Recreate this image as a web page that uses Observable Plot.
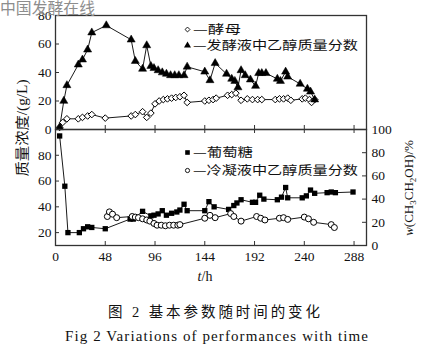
<!DOCTYPE html>
<html><head><meta charset="utf-8">
<script src="https://cdn.jsdelivr.net/npm/d3@7"></script>
<script src="https://cdn.jsdelivr.net/npm/@observablehq/plot@0.6"></script>
<style>
body{margin:0;background:#fff}
#root{position:relative;width:432px;height:358px;overflow:hidden;background:#fff}
#root svg{position:absolute;left:0}
</style></head><body><div id="root"></div>
<script>
// ---- tick values ----
const xTicks = [0, 48, 96, 144, 192, 240, 288];
const topTicks = [0, 20, 40, 60, 80];
const leftTicks = [20, 40, 60, 80];
const rightTicks = [0, 20, 40, 60, 80, 100];

// ---- top panel: yeast (g/L) ----
const yeastTime = [4,7,11,22,26,31,35,48,73,77,84,88,92,96,100,104,108,112,116,120,124,127,144,148,152,155,166,170,174,179,185,190,195,199,212,216,220,224,227,238,241,245,247,250];
const yeastConc = [1.5,5,7.5,7.5,8.5,9.5,10.5,8,9.5,10.5,12.5,8.5,11.5,18,20,21,21.5,22,22.5,23,24,19,20,20.5,21,22,24,24.5,25.5,20.5,21.5,21,21,21,21,21.5,21.5,22,20.5,21.5,22,21,19,21];

// ---- top panel: ethanol in broth ----
const brothTime = [4,8,11,22,26,31,35,49,73,77,84,88,92,95,99,103,107,111,115,119,124,127,144,149,154,165,170,173,176,179,183,188,193,196,199,203,214,217,222,224,236,243,246,250];
const brothEthanol = [1.5,20,31,45.5,49,56,68,73,63,48,42.5,59,44.5,43,41.5,40,39,38,38,38,38,44,40.5,34.5,46.5,39,35.5,34,29.5,41.5,38,35,30.5,39.5,39.5,39.5,35.5,34,40.5,37,32,28.5,26.5,21];

// ---- bottom panel: glucose (g/L, left axis) ----
const glucoseTime = [4,9,12,23,27,31,35,48,72,75,84,92,95,99,103,107,112,117,120,124,127,144,148,153,167,172,175,179,190,193,197,201,214,218,222,224,238,242,246,250,262,266,270,287];
const glucoseConc = [95,56,20,20,23,24.5,24,23,30.5,30.5,36.5,33,33.5,34.5,37,33.5,35,36,37.5,42,37,37,44,40,38,41,43,45.5,43.5,43.5,49,46,45.5,47.5,55,47,47,48.5,53,50.5,51,51.5,51,51.5];

// ---- bottom panel: ethanol in condensate (%, right axis) ----
const condTime = [50,52,55,59,74,77,80,84,88,91,95,98,102,106,110,114,118,120,144,149,154,169,172,179,194,198,202,216,220,224,240,244,249,266,269];
const condEthanol = [25,29,27,24,25,24.5,24,23,22,21,19,17.5,17.5,17,17.5,17.5,17.5,18,23.5,26,24,27.5,25,21,25,23.5,22,23.5,24,22.5,24.5,23,20,18,15.5];

// ---- tables ----
const zip = (ts, vs) => ts.map((t, i) => ({t, v: vs[i]}));
const yeast = zip(yeastTime, yeastConc);
const broth = zip(brothTime, brothEthanol);
const glucose = zip(glucoseTime, glucoseConc);
const leftDomain = [10, 100], rightDomain = [0, 100];
const r2l = v => leftDomain[0] + (v - rightDomain[0]) * (leftDomain[1] - leftDomain[0]) / (rightDomain[1] - rightDomain[0]);
const l2r = v => rightDomain[0] + (v - leftDomain[0]) * (rightDomain[1] - rightDomain[0]) / (leftDomain[1] - leftDomain[0]);
const cond = zip(condTime, condEthanol).map(d => ({t: d.t, v: r2l(d.v)}));

// ---- layout ----
const W = 432, ML = 55, MR = 66, FW = W - ML - MR;
const serif = "'Liberation Serif','Times New Roman',serif";
const frameColor = "#333";
const lineW = 0.9;

const topH = 130, topMT = 15, topMB = 1, topFH = topH - topMT - topMB;
const topPlot = Plot.plot({
  width: W, height: topH, marginLeft: ML, marginRight: MR, marginTop: topMT, marginBottom: topMB,
  x: {domain: [0, 300], axis: null},
  y: {domain: [0, 80]},
  style: {fontFamily: serif, fontSize: "13.5px", background: "transparent", color: "#111", overflow: "visible"},
  marks: [
    Plot.axisY(topTicks, {tickSize: 0, tickPadding: 4, label: null, fontSize: 13.5}),
    Plot.ruleY(topTicks, {insetRight: FW - 4, stroke: frameColor}),
    Plot.ruleX(xTicks, {insetTop: topFH - 4, stroke: frameColor}),
    Plot.line(yeast, {x: "t", y: "v", stroke: "black", strokeWidth: lineW}),
    Plot.line(broth, {x: "t", y: "v", stroke: "black", strokeWidth: lineW}),
    Plot.dot(yeast, {x: "t", y: "v", symbol: "diamond2", r: 3, fill: "white", stroke: "black", strokeWidth: 1}),
    Plot.dot(broth, {x: "t", y: "v", symbol: "triangle", r: 3, fill: "black", stroke: "black", strokeWidth: 0.5}),
    Plot.dot([0], {frameAnchor: "top-left", dx: 132, dy: 14, symbol: "diamond2", r: 2.2, fill: "white", stroke: "black", strokeWidth: 0.9}),
    Plot.dot([0], {frameAnchor: "top-left", dx: 132, dy: 30, symbol: "triangle", r: 2.6, fill: "black"}),
    Plot.frame({stroke: frameColor, strokeWidth: 1.3})
  ]
});
topPlot.style.top = "0px";

const botTop = 125, botH = 165, botMT = 4, botMB = 45, botFH = botH - botMT - botMB;
const botPlot = Plot.plot({
  width: W, height: botH, marginLeft: ML, marginRight: MR, marginTop: botMT, marginBottom: botMB,
  x: {domain: [0, 300]},
  y: {domain: leftDomain},
  style: {fontFamily: serif, fontSize: "13.5px", background: "transparent", color: "#111", overflow: "visible"},
  marks: [
    Plot.axisX(xTicks, {tickSize: 0, tickPadding: 6, label: null, fontSize: 13.5}),
    Plot.axisY(leftTicks, {tickSize: 0, tickPadding: 4, label: null, fontSize: 13.5}),
    Plot.axisY(rightTicks.map(r2l), {anchor: "right", tickSize: 0, tickPadding: 5, label: null, fontSize: 13.5, tickFormat: d => String(Math.round(l2r(d)))}),
    Plot.ruleY(leftTicks, {insetRight: FW - 4, stroke: frameColor}),
    Plot.ruleY(rightTicks.map(r2l), {insetLeft: FW - 4, stroke: frameColor}),
    Plot.ruleX(xTicks, {insetTop: botFH - 4, stroke: frameColor}),
    Plot.ruleX(xTicks, {insetBottom: botFH - 4, stroke: frameColor}),
    Plot.line(glucose, {x: "t", y: "v", stroke: "black", strokeWidth: lineW}),
    Plot.line(cond, {x: "t", y: "v", stroke: "black", strokeWidth: lineW}),
    Plot.dot(glucose, {x: "t", y: "v", symbol: "square", r: 3, fill: "black"}),
    Plot.dot(cond, {x: "t", y: "v", symbol: "circle", r: 3, fill: "white", stroke: "black", strokeWidth: 1}),
    Plot.dot([0], {frameAnchor: "top-left", dx: 132, dy: 23, symbol: "square", r: 2.6, fill: "black"}),
    Plot.dot([0], {frameAnchor: "top-left", dx: 132, dy: 41, symbol: "circle", r: 2.1, fill: "white", stroke: "black", strokeWidth: 0.9}),
    Plot.frame({stroke: frameColor, strokeWidth: 1.3})
  ]
});
botPlot.style.top = botTop + "px";

const root = document.getElementById("root");
root.appendChild(topPlot);
root.appendChild(botPlot);

// ---- overlay texts ----
const cjk = "'Noto Sans CJK SC','Noto Sans',sans-serif";
const ov = d3.create("svg").attr("width", W).attr("height", 358).style("top", "0px").style("pointer-events", "none");
function txt(x, y, s, size, family, len, anchor = "start", fill = "#111", adjust = "spacingAndGlyphs") {
  const t = ov.append("text").attr("x", x).attr("y", y).attr("font-size", size).attr("font-family", family)
    .attr("fill", fill).attr("text-anchor", anchor).text(s);
  if (len) t.attr("textLength", len).attr("lengthAdjust", adjust);
  return t;
}
// watermark
txt(0, 14, "中国发酵在线", 15.5, cjk, 95, "start", "#8d8d8d");
// legends
txt(193, 33.5, "—酵母", 12.5, cjk, 48);
txt(193, 49.5, "—发酵液中乙醇质量分数", 12.5, cjk, 165);
txt(193, 156.5, "—葡萄糖", 12.5, cjk, 60);
txt(193, 174.5, "—冷凝液中乙醇质量分数", 12.5, cjk, 165);
// left y label
ov.append("text").attr("transform", "translate(27,128) rotate(-90)").attr("text-anchor", "middle")
  .attr("font-size", 14).attr("font-family", "'Liberation Serif'," + cjk).attr("fill", "#111")
  .attr("textLength", 97).attr("lengthAdjust", "spacingAndGlyphs").text("质量浓度/(g/L)");
// right y label
const rl = ov.append("text").attr("transform", "translate(413,188) rotate(-90)").attr("text-anchor", "middle")
  .attr("font-size", 13).attr("font-family", serif).attr("fill", "#111");
rl.append("tspan").attr("font-style", "italic").text("w");
rl.append("tspan").text("(CH");
rl.append("tspan").attr("font-size", 9).attr("dy", 3).text("3");
rl.append("tspan").attr("dy", -3).text("CH");
rl.append("tspan").attr("font-size", 9).attr("dy", 3).text("2");
rl.append("tspan").attr("dy", -3).text("OH)/%");
// x label
const xl = ov.append("text").attr("x", 205).attr("y", 281).attr("text-anchor", "middle")
  .attr("font-size", 14).attr("font-family", serif).attr("fill", "#111");
xl.append("tspan").attr("font-style", "italic").text("t");
xl.append("tspan").text("/h");
// captions
txt(108, 317, "图 2  基本参数随时间的变化", 14.5, "'Liberation Serif'," + cjk, 212, "start", "#111", "spacing");
txt(65, 341, "Fig 2  Variations of performances with time", 15, serif, 303, "start", "#111", "spacing");
root.appendChild(ov.node());
</script></body></html>
